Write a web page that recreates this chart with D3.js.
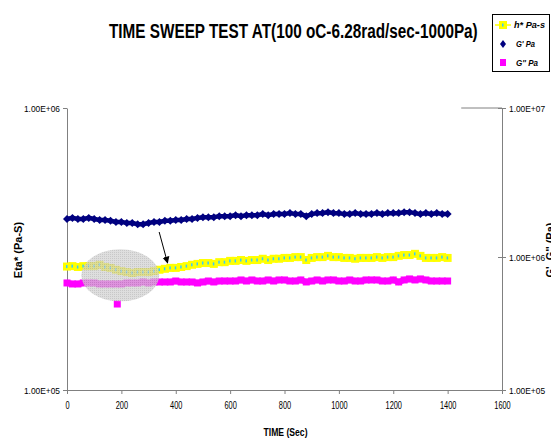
<!DOCTYPE html>
<html><head><meta charset="utf-8">
<script src="https://cdn.jsdelivr.net/npm/d3@7"></script>
<style>
html,body{margin:0;padding:0;background:#fff;}
svg{display:block;}
text{font-family:"Liberation Sans",Arial,sans-serif;}
</style></head>
<body>
<script>
// ---- data ----
const times = [0,20,40,60,80,100,120,140,160,180,200,220,240,260,280,300,320,340,360,380,400,420,440,460,480,500,520,540,560,580,600,620,640,660,680,700,720,740,760,780,800,820,840,860,880,900,920,940,960,980,1000,1020,1040,1060,1080,1100,1120,1140,1160,1180,1200,1220,1240,1260,1280,1300,1320,1340,1360,1380,1400];
// Eta* (Pa-s), left axis
const etaStar = [2.74e5,2.75e5,2.73e5,2.75e5,2.75e5,2.75e5,2.78e5,2.73e5,2.71e5,2.67e5,2.64e5,2.62e5,2.60e5,2.62e5,2.62e5,2.62e5,2.64e5,2.67e5,2.69e5,2.71e5,2.71e5,2.73e5,2.75e5,2.78e5,2.80e5,2.82e5,2.82e5,2.80e5,2.84e5,2.84e5,2.87e5,2.87e5,2.89e5,2.87e5,2.89e5,2.89e5,2.92e5,2.89e5,2.92e5,2.92e5,2.94e5,2.94e5,2.96e5,2.96e5,2.89e5,2.94e5,2.96e5,2.96e5,2.99e5,2.96e5,2.96e5,2.94e5,2.94e5,2.92e5,2.94e5,2.94e5,2.94e5,2.96e5,2.94e5,2.96e5,2.96e5,2.99e5,3.01e5,3.01e5,3.04e5,2.99e5,2.94e5,2.94e5,2.94e5,2.96e5,2.94e5];
// G' (Pa), right axis
const gPrime = [1.80e6,1.83e6,1.80e6,1.80e6,1.83e6,1.80e6,1.77e6,1.77e6,1.75e6,1.72e6,1.72e6,1.69e6,1.69e6,1.66e6,1.66e6,1.69e6,1.72e6,1.72e6,1.75e6,1.75e6,1.77e6,1.77e6,1.80e6,1.80e6,1.83e6,1.85e6,1.85e6,1.85e6,1.88e6,1.88e6,1.88e6,1.91e6,1.88e6,1.91e6,1.91e6,1.91e6,1.94e6,1.91e6,1.94e6,1.94e6,1.94e6,1.97e6,1.94e6,1.94e6,1.88e6,1.94e6,1.97e6,1.97e6,2.00e6,1.97e6,1.97e6,1.94e6,1.94e6,1.97e6,1.94e6,1.94e6,1.94e6,1.97e6,1.94e6,1.97e6,1.97e6,1.97e6,2.00e6,2.00e6,1.97e6,1.94e6,1.97e6,1.94e6,1.97e6,1.94e6,1.94e6];
// G'' (Pa), right axis
const gDouble = [6.38e5,6.27e5,6.27e5,6.38e5,6.38e5,6.38e5,6.27e5,6.27e5,6.27e5,6.27e5,6.27e5,6.38e5,6.38e5,6.38e5,6.49e5,6.38e5,6.49e5,6.49e5,6.49e5,6.49e5,6.60e5,6.49e5,6.49e5,6.49e5,6.38e5,6.49e5,6.60e5,6.49e5,6.60e5,6.60e5,6.60e5,6.60e5,6.72e5,6.60e5,6.72e5,6.60e5,6.60e5,6.72e5,6.60e5,6.72e5,6.72e5,6.60e5,6.60e5,6.72e5,6.49e5,6.60e5,6.72e5,6.60e5,6.72e5,6.72e5,6.60e5,6.60e5,6.72e5,6.60e5,6.60e5,6.72e5,6.72e5,6.72e5,6.60e5,6.60e5,6.72e5,6.49e5,6.72e5,6.84e5,6.72e5,6.84e5,6.72e5,6.60e5,6.60e5,6.60e5,6.60e5];
const gDoubleOutlierTime = [185];
const gDoubleOutlierValue = [4.43e5];
const xTicks = [0,200,400,600,800,1000,1200,1400,1600];
const leftTicks = [1e5,1e6];
const rightTicks = [1e5,1e6,1e7];
const fmtE = v => "1.00E+0" + Math.round(Math.log10(v));

// ---- layout ----
const W = 551, H = 439;
const L = 67, R = 502, T = 108, B = 390;
const svg = d3.select("body").append("svg").attr("width", W).attr("height", H);

const x = d3.scaleLinear().domain([0,1600]).range([L,R]);
const yL = d3.scaleLog().domain([1e5,1e6]).range([B,T]);
const yR = d3.scaleLog().domain([1e5,1e6,1e7]).range([B,257,T]);

const axisColor = "#808080";
const gx = svg.append("g").attr("transform",`translate(0,${B})`)
  .call(d3.axisBottom(x).tickValues(xTicks).tickSize(4).tickSizeOuter(0).tickPadding(8).tickFormat(d3.format("d")));
const gl = svg.append("g").attr("transform",`translate(${L},0)`)
  .call(d3.axisLeft(yL).tickValues(leftTicks).tickSize(4).tickSizeOuter(0).tickPadding(3).tickFormat(fmtE));
const gr = svg.append("g").attr("transform",`translate(${R},0)`)
  .call(d3.axisRight(yR).tickValues(rightTicks).tickSize(4).tickSizeOuter(0).tickPadding(3).tickFormat(fmtE));
gr.selectAll(".tick line").attr("x1",-4);
function squeeze(g, size, f){
  g.select(".domain").attr("stroke",axisColor);
  g.selectAll(".tick line").attr("stroke",axisColor);
  g.selectAll("text").attr("font-size",size).attr("fill","#000")
    .each(function(){ const w=this.getComputedTextLength(); d3.select(this).attr("textLength",w*f).attr("lengthAdjust","spacingAndGlyphs"); });
}
squeeze(gx, 10, 0.74);
squeeze(gl, 9.5, 0.88);
squeeze(gr, 9.5, 0.88);
// short top line near right axis
svg.append("line").attr("x1",x(1450)).attr("x2",R).attr("y1",T).attr("y2",T).attr("stroke",axisColor);

// ---- series ----
const etaData = times.map((t,i)=>({t, v:etaStar[i]}));
const gpData = times.map((t,i)=>({t, v:gPrime[i]}));
const gppMain = times.map((t,i)=>({t, v:gDouble[i]}));
const gppOut = gDoubleOutlierTime.map((t,i)=>({t, v:gDoubleOutlierValue[i]}));

// G'' magenta
svg.append("path").datum(gppMain)
  .attr("d", d3.line().x(d=>x(d.t)).y(d=>yR(d.v)))
  .attr("fill","none").attr("stroke","#ff00ff").attr("stroke-width",6);
svg.append("g").selectAll("rect").data(gppMain.concat(gppOut)).join("rect")
  .attr("x",d=>x(d.t)-3.5).attr("y",d=>yR(d.v)-3.5).attr("width",7).attr("height",7).attr("fill","#ff00ff");

// G' navy
svg.append("path").datum(gpData)
  .attr("d", d3.line().x(d=>x(d.t)).y(d=>yR(d.v)))
  .attr("fill","none").attr("stroke","#000080").attr("stroke-width",4.5);
const dsz = 4;
svg.append("g").selectAll("path").data(gpData).join("path")
  .attr("d",d=>{const cx=x(d.t), cy=yR(d.v);return `M${cx},${cy-dsz}L${cx+dsz},${cy}L${cx},${cy+dsz}L${cx-dsz},${cy}Z`;})
  .attr("fill","#000080");

// Eta* yellow
svg.append("path").datum(etaData)
  .attr("d", d3.line().x(d=>x(d.t)).y(d=>yL(d.v)))
  .attr("fill","none").attr("stroke","#ffff00").attr("stroke-width",6);
svg.append("g").selectAll("rect").data(etaData).join("rect")
  .attr("x",d=>x(d.t)-4).attr("y",d=>yL(d.v)-4).attr("width",8).attr("height",8).attr("fill","#ffff00");
svg.append("g").selectAll("rect").data(etaData).join("rect")
  .attr("x",d=>x(d.t)-1).attr("y",d=>yL(d.v)-1.5).attr("width",1.5).attr("height",3).attr("fill","#33ccff");

// ---- annotation ellipse & arrow ----
const defs = svg.append("defs");
const pat = defs.append("pattern").attr("id","dots").attr("width",2).attr("height",2).attr("patternUnits","userSpaceOnUse");
pat.append("rect").attr("width",2).attr("height",2).attr("fill","#d0d0d0");
pat.append("rect").attr("width",1).attr("height",1).attr("fill","#b0b0b0");
svg.append("ellipse").attr("cx",x(196)).attr("cy",yL(2.55e5)).attr("rx",39).attr("ry",26)
  .attr("fill","url(#dots)").attr("opacity",0.7);

defs.append("marker").attr("id","arr").attr("viewBox","0 0 10 10").attr("refX",9).attr("refY",5)
  .attr("markerWidth",7).attr("markerHeight",9).attr("orient","auto").attr("markerUnits","userSpaceOnUse")
  .append("path").attr("d","M0,0L10,5L0,10Z").attr("fill","#000");
svg.append("line").attr("x1",x(339)).attr("y1",232).attr("x2",x(370)).attr("y2",263)
  .attr("stroke","#000").attr("stroke-width",1).attr("marker-end","url(#arr)");

// ---- texts ----
const title = svg.append("text").attr("x",0).attr("y",0).attr("font-size",20).attr("font-weight","bold")
  .text("TIME SWEEP TEST AT(100 oC-6.28rad/sec-1000Pa)");
const tw = title.node().getComputedTextLength();
title.attr("transform",`translate(109,38) scale(${369/tw},1)`);
svg.append("text").attr("x",(L+R)/2+1).attr("y",436).attr("text-anchor","middle")
  .attr("font-size",10).attr("font-weight","bold").attr("textLength",44).attr("lengthAdjust","spacingAndGlyphs").text("TIME (Sec)");
svg.append("text").attr("transform","translate(22,250) rotate(-90)").attr("text-anchor","middle")
  .attr("font-size",11).attr("font-weight","bold").text("Eta* (Pa-S)");
svg.append("text").attr("transform","translate(554,250) rotate(-90)").attr("text-anchor","middle")
  .attr("font-size",11).attr("font-weight","bold").text("G', G'' (Pa)");

// ---- legend ----
const lg = svg.append("g");
lg.append("rect").attr("x",492.5).attr("y",14.5).attr("width",57).attr("height",57).attr("fill","#fff").attr("stroke","#000");
const lx = 503;
lg.append("line").attr("x1",495).attr("x2",511).attr("y1",25).attr("y2",25).attr("stroke","#ffff00").attr("stroke-width",1.5);
lg.append("rect").attr("x",lx-4).attr("y",21).attr("width",8).attr("height",8).attr("fill","#ffff00");
lg.append("rect").attr("x",lx-1).attr("y",23.5).attr("width",1.5).attr("height",3).attr("fill","#33ccff");
lg.append("path").attr("d",`M${lx},${44-4}L${lx+3},44L${lx},${44+4}L${lx-3},44Z`).attr("fill","#000080");
lg.append("rect").attr("x",lx-3).attr("y",59).attr("width",6).attr("height",7).attr("fill","#ff00ff");
const legLabels = ["h* Pa-s","G' Pa","G'' Pa"];
const legY = [28,47,66];
const legW = [31,19,22];
lg.selectAll("text.lbl").data(legLabels).join("text").attr("class","lbl")
  .attr("x",(d,i)=>i===0?514:516).attr("y",(d,i)=>legY[i]).attr("font-size",9)
  .attr("font-weight","bold").attr("font-style","italic")
  .attr("textLength",(d,i)=>legW[i]).attr("lengthAdjust","spacingAndGlyphs").text(d=>d);
</script>
</body></html>
